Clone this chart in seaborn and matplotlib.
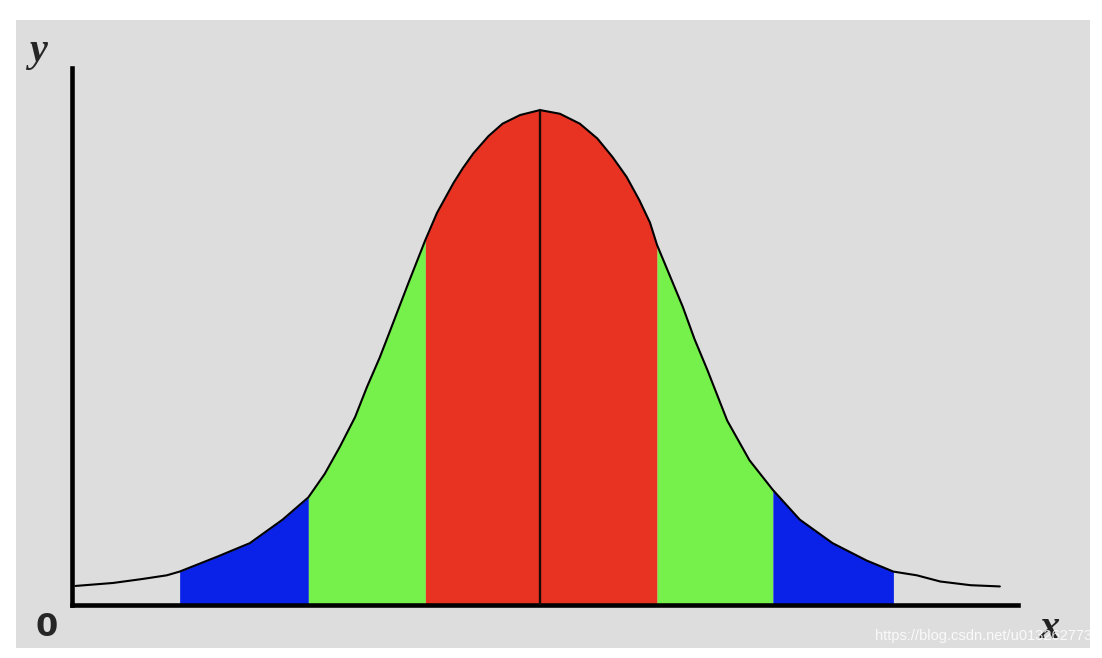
import numpy as np
import matplotlib
matplotlib.use('Agg')
import matplotlib.pyplot as plt
import seaborn as sns
from matplotlib.patches import Rectangle

# curve: x in sigma units, y as density height
curve_x = [-3.97, -3.65, -3.40, -3.19, -3.08, -2.76, -2.48, -2.20, -1.98, -1.84, -1.71, -1.58,
           -1.48, -1.37, -1.28, -1.13, -0.98, -0.88, -0.74, -0.66, -0.57, -0.44, -0.32, -0.17,
           0.0, 0.17, 0.34, 0.49, 0.62, 0.74, 0.85, 0.94, 1.00, 1.11, 1.22, 1.32, 1.43, 1.60,
           1.79, 1.99, 2.22, 2.50, 2.79, 3.02, 3.22, 3.42, 3.68, 3.93]
curve_y = [0.0154, 0.0178, 0.021, 0.024, 0.027, 0.039, 0.050, 0.069, 0.087, 0.106, 0.128, 0.152,
           0.176, 0.200, 0.222, 0.259, 0.295, 0.317, 0.341, 0.353, 0.365, 0.379, 0.389, 0.396,
           0.400, 0.397, 0.389, 0.377, 0.362, 0.346, 0.327, 0.309, 0.291, 0.266, 0.241, 0.215,
           0.190, 0.149, 0.117, 0.093, 0.069, 0.050, 0.036, 0.027, 0.024, 0.019, 0.016, 0.015]

# shaded bands (sigma ranges) and colours
bands = [(-3.08, -1.98), (-1.98, -0.98), (-0.98, 0.0), (0.0, 1.00), (1.00, 1.99), (1.99, 3.02)]
band_colors = ['#0a22e8', '#76f04a', '#e83323', '#e83323', '#76f04a', '#0a22e8']

sns.set_style('white')

W, H = 1102, 658
fig = plt.figure(figsize=(W / 100, H / 100), dpi=100)
fig.patch.set_facecolor('white')
# grey panel behind everything
panel = Rectangle((16 / W, 1 - 648 / H), (1090 - 16) / W, (648 - 20) / H,
                  transform=fig.transFigure, facecolor='#dddddd', edgecolor='none', zorder=-10)
fig.patches.append(panel)

ax = fig.add_axes([72 / W, (H - 605) / H, (1018 - 72) / W, (605 - 68) / H])
ax.set_facecolor('none')
ax.set_zorder(1)

cx = np.array(curve_x)
cy = np.array(curve_y)
for (a, b), c in zip(bands, band_colors):
    m = (cx >= a - 1e-9) & (cx <= b + 1e-9)
    ax.fill_between(cx[m], 0, cy[m], color=c, linewidth=0, zorder=1)

sns.lineplot(x=curve_x, y=curve_y, ax=ax, color='black', linewidth=1.5, zorder=3, sort=False)
ax.plot([0, 0], [0, max(curve_y)], color='#1a0a08', linewidth=1.7, zorder=3)

ax.set_xlim(-4.0, 4.085)
ax.set_ylim(0, 0.434)
for s in ['top', 'right']:
    ax.spines[s].set_visible(False)
for s in ['left', 'bottom']:
    ax.spines[s].set_linewidth(3.3)
    ax.spines[s].set_color('black')
ax.set_xticks([])
ax.set_yticks([])

fig.text(38 / W, 1 - 52 / H, 'y', fontsize=29, fontweight='bold', fontstyle='italic',
         family='Liberation Serif', ha='center', va='center', zorder=5)
fig.text(47 / W, 1 - 627 / H, '0', fontsize=23, fontweight='bold',
         family='DejaVu Sans', ha='center', va='center', zorder=5)
fig.text(1050 / W, 1 - 628 / H, 'x', fontsize=29, fontweight='bold', fontstyle='italic',
         family='Liberation Serif', ha='center', va='center', color='#222222', zorder=5)
fig.text(1092 / W, 1 - 636 / H, 'https://blog.csdn.net/u013262773', fontsize=10.5,
         family='Liberation Sans', ha='right', va='center', color='white', alpha=0.85, zorder=6)

fig.savefig('out.png', dpi=100, facecolor='white')
